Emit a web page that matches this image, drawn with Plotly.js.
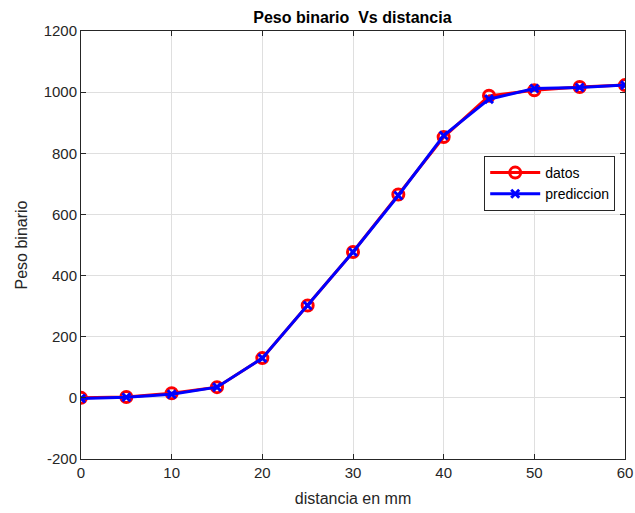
<!DOCTYPE html>
<html>
<head>
<meta charset="utf-8">
<script src="https://cdn.plot.ly/plotly-3.0.1.min.js"></script>
<style>html,body{margin:0;padding:0;background:#fff;}#chart{width:635px;height:513px;}</style>
</head>
<body>
<div id="chart"></div>
<script>
const distancia = [0, 5, 10, 15, 20, 25, 30, 35, 40, 45, 50, 55, 60];
const datos = [0, 3, 15, 35, 130, 302, 477, 665, 853, 988, 1006, 1017, 1023];
const prediccion = [-2, 2, 12, 35, 130, 302, 477, 662, 858, 977, 1012, 1015, 1023];
const xTicks = [0, 10, 20, 30, 40, 50, 60];
const yTicks = [-200, 0, 200, 400, 600, 800, 1000, 1200];
const yTickText = ['-200', '0', '200', '400', '600', '800', '1000', '1200'];

const traces = [
  {x: distancia, y: datos, name: 'datos', mode: 'lines+markers', type: 'scatter',
   line: {color: '#ff0000', width: 3},
   marker: {symbol: 'circle-open', size: 11, color: '#ff0000', line: {width: 3, color: '#ff0000'}}},
  {x: distancia, y: prediccion, name: 'prediccion', mode: 'lines+markers', type: 'scatter',
   line: {color: '#0000ff', width: 3},
   marker: {symbol: 'x-thin-open', size: 8, color: '#0000ff', line: {width: 3, color: '#0000ff'}}}
];

const axisCommon = {showline: true, mirror: 'ticks', linecolor: '#262626', linewidth: 1,
  ticks: 'inside', ticklen: 5, tickcolor: '#262626', showgrid: true, gridcolor: '#dfdfdf',
  zeroline: false, tickfont: {family: 'Liberation Sans, Arial, sans-serif', size: 15, color: '#262626'}};

const layout = {
  width: 635, height: 513,
  margin: {l: 81, r: 10, t: 31, b: 54},
  paper_bgcolor: '#ffffff', plot_bgcolor: '#ffffff',
  title: {text: '<b>Peso binario  Vs distancia</b>', x: 0.555, xanchor: 'center', y: 0.967, yanchor: 'middle',
    font: {family: 'Liberation Sans, Arial, sans-serif', size: 16, color: '#000'}},
  xaxis: Object.assign({}, axisCommon, {range: [0, 60], tickvals: xTicks,
    title: {text: 'distancia en mm', standoff: 12, font: {family: 'Liberation Sans, Arial, sans-serif', size: 16, color: '#262626'}}}),
  yaxis: Object.assign({}, axisCommon, {range: [-200, 1200], tickvals: yTicks, ticktext: yTickText,
    title: {text: 'Peso binario', standoff: 12, font: {family: 'Liberation Sans, Arial, sans-serif', size: 16, color: '#262626'}}}),
  showlegend: true,
  legend: {x: 0.982, xanchor: 'right', y: 0.708, yanchor: 'top', bgcolor: '#ffffff', bordercolor: '#262626', borderwidth: 1,
    itemwidth: 50, font: {family: 'Liberation Sans, Arial, sans-serif', size: 14, color: '#000'}, tracegroupgap: 0}
};

Plotly.newPlot('chart', traces, layout, {displayModeBar: false, staticPlot: true});
</script>
</body>
</html>
